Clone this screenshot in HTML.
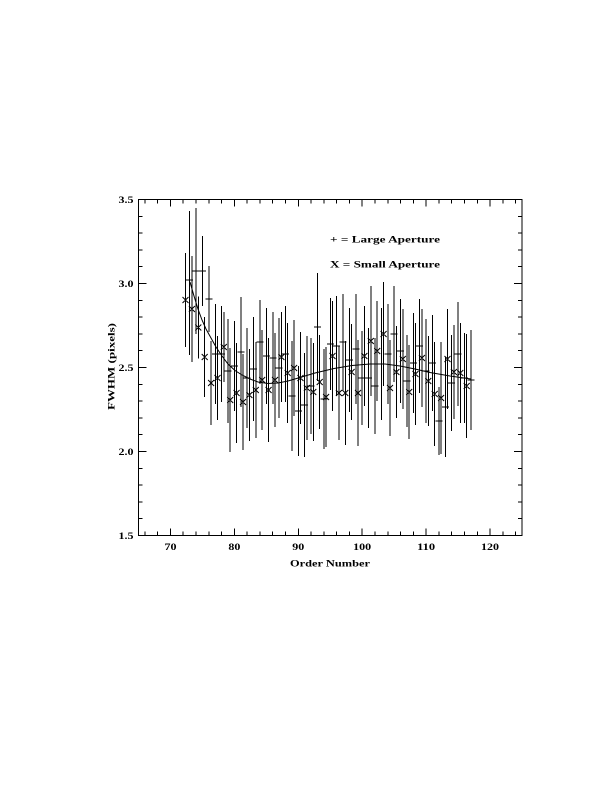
<!DOCTYPE html>
<html>
<head>
<meta charset="utf-8">
<style>
html,body{margin:0;padding:0;background:#fff;}
body{width:612px;height:792px;overflow:hidden;}
svg{display:block;}
text{font-family:"Liberation Serif","DejaVu Serif",serif;font-weight:bold;fill:#000;}
</style>
</head>
<body>
<svg width="612" height="792" viewBox="0 0 612 792" xmlns="http://www.w3.org/2000/svg">
<rect x="0" y="0" width="612" height="792" fill="#fff"/>
<!-- axes box -->
<rect x="138.5" y="199.5" width="383.5" height="336" fill="none" stroke="#000" stroke-width="1" shape-rendering="crispEdges"/>
<!-- x ticks -->
<path stroke="#000" stroke-width="1" fill="none" shape-rendering="crispEdges" d="
M144.9,535.5v-4 M157.7,535.5v-4 M183.2,535.5v-4 M196.0,535.5v-4 M208.8,535.5v-4 M221.6,535.5v-4
M247.2,535.5v-4 M259.9,535.5v-4 M272.7,535.5v-4 M285.5,535.5v-4 M311.1,535.5v-4 M323.9,535.5v-4
M336.6,535.5v-4 M349.4,535.5v-4 M375.0,535.5v-4 M387.8,535.5v-4 M400.6,535.5v-4 M413.3,535.5v-4
M438.9,535.5v-4 M451.7,535.5v-4 M464.5,535.5v-4 M477.3,535.5v-4 M502.8,535.5v-4 M515.6,535.5v-4
M170.5,535.5v-7 M234.4,535.5v-7 M298.3,535.5v-7 M362.2,535.5v-7 M426.1,535.5v-7 M490.0,535.5v-7
M144.9,199.5v4 M157.7,199.5v4 M183.2,199.5v4 M196.0,199.5v4 M208.8,199.5v4 M221.6,199.5v4
M247.2,199.5v4 M259.9,199.5v4 M272.7,199.5v4 M285.5,199.5v4 M311.1,199.5v4 M323.9,199.5v4
M336.6,199.5v4 M349.4,199.5v4 M375.0,199.5v4 M387.8,199.5v4 M400.6,199.5v4 M413.3,199.5v4
M438.9,199.5v4 M451.7,199.5v4 M464.5,199.5v4 M477.3,199.5v4 M502.8,199.5v4 M515.6,199.5v4
M170.5,199.5v7 M234.4,199.5v7 M298.3,199.5v7 M362.2,199.5v7 M426.1,199.5v7 M490.0,199.5v7
"/>
<!-- y ticks -->
<path stroke="#000" stroke-width="1" fill="none" shape-rendering="crispEdges" d="
M138.5,518.7h4 M138.5,501.9h4 M138.5,485.1h4 M138.5,468.3h4
M138.5,434.7h4 M138.5,417.9h4 M138.5,401.1h4 M138.5,384.3h4
M138.5,350.7h4 M138.5,333.9h4 M138.5,317.1h4 M138.5,300.3h4
M138.5,266.7h4 M138.5,249.9h4 M138.5,233.1h4 M138.5,216.3h4
M138.5,451.5h8 M138.5,367.5h8 M138.5,283.5h8
M522,518.7h-4 M522,501.9h-4 M522,485.1h-4 M522,468.3h-4
M522,434.7h-4 M522,417.9h-4 M522,401.1h-4 M522,384.3h-4
M522,350.7h-4 M522,333.9h-4 M522,317.1h-4 M522,300.3h-4
M522,266.7h-4 M522,249.9h-4 M522,233.1h-4 M522,216.3h-4
M522,451.5h-8 M522,367.5h-8 M522,283.5h-8
"/>
<!-- y tick labels -->
<g font-size="9.5" text-anchor="end">
<text x="133.5" y="203" textLength="15" lengthAdjust="spacingAndGlyphs">3.5</text>
<text x="133.5" y="287" textLength="15" lengthAdjust="spacingAndGlyphs">3.0</text>
<text x="133.5" y="371" textLength="15" lengthAdjust="spacingAndGlyphs">2.5</text>
<text x="133.5" y="455" textLength="15" lengthAdjust="spacingAndGlyphs">2.0</text>
<text x="133.5" y="539" textLength="15" lengthAdjust="spacingAndGlyphs">1.5</text>
</g>
<!-- x tick labels -->
<g font-size="9.5">
<text x="164.5" y="550" textLength="12" lengthAdjust="spacingAndGlyphs">70</text>
<text x="228.4" y="550" textLength="12" lengthAdjust="spacingAndGlyphs">80</text>
<text x="292.3" y="550" textLength="12" lengthAdjust="spacingAndGlyphs">90</text>
<text x="353.2" y="550" textLength="18" lengthAdjust="spacingAndGlyphs">100</text>
<text x="417.1" y="550" textLength="18" lengthAdjust="spacingAndGlyphs">110</text>
<text x="481.0" y="550" textLength="18" lengthAdjust="spacingAndGlyphs">120</text>
</g>
<!-- axis titles -->
<text x="290" y="566.5" font-size="9.5" textLength="80" lengthAdjust="spacingAndGlyphs">Order Number</text>
<text transform="translate(114.5,410) rotate(-90)" x="0" y="0" font-size="9.5" textLength="87" lengthAdjust="spacingAndGlyphs">FWHM (pixels)</text>
<!-- legend -->
<text x="330" y="242.5" font-size="9.5" textLength="110" lengthAdjust="spacingAndGlyphs">+ = Large Aperture</text>
<text x="330" y="267.5" font-size="9.5" textLength="110" lengthAdjust="spacingAndGlyphs">X = Small Aperture</text>

<!-- error bars: small aperture -->
<path stroke="#000" stroke-width="1" fill="none" shape-rendering="crispEdges" d="
M185.5,253V347 M191.9,256V362 M198.3,296.5V358.5 M204.7,317V397 M211.1,341V425 M217.5,336V420
M223.8,312V382 M230.2,348V452 M236.6,343V443 M243.0,354V450 M249.4,349V441 M255.8,342V438
M262.2,330V430 M268.6,338V442 M275.0,333V427 M281.4,312V402 M287.7,323V423 M294.1,320V416
M300.5,332V424 M306.9,336V440 M313.3,343V441 M319.7,335V429 M326.1,347V447 M332.5,301V411
M338.9,346V440 M345.3,341V445 M351.6,324V420 M358.0,340V446 M364.4,306V406 M370.8,286V396
M377.2,301V401 M383.6,282V386 M390.0,340V436 M396.4,326V418 M402.8,309V409 M409.2,345V439
M415.5,323V425 M421.9,309V407 M428.3,336V426 M434.7,342V446 M441.1,342V454 M447.5,309V409
M453.9,325V419 M460.3,323V423 M466.7,334V438
"/>
<!-- error bars: large aperture -->
<path stroke="#000" stroke-width="1" fill="none" shape-rendering="crispEdges" d="
M189.7,211V355 M196.1,208V334 M202.5,236V306 M208.9,266V332 M215.3,304V404 M221.7,306V402
M228.0,319V423 M234.4,321V411 M240.8,297V407 M247.2,328V428 M253.6,317V421 M260.0,300V384
M266.4,308V404 M272.8,312V404 M279.2,318V418 M285.6,306V402 M291.9,341V451 M298.3,366V456
M304.7,353V457 M311.1,338V434 M317.5,273V381 M323.9,349V449 M330.3,298V390 M336.7,296V396
M343.1,294V390 M349.5,308V412 M355.8,294V404 M362.2,331V425 M368.6,328V428 M375.0,338V434
M381.4,308V420 M387.8,304V404 M394.2,286V382 M400.6,299V403 M407.0,335V427 M413.4,313V413
M419.7,299V393 M426.1,319V423 M432.5,315V411 M438.9,387V455 M445.3,357V457 M451.7,335V431
M458.1,302V406 M464.5,333V423 M470.9,330V430
"/>
<!-- plus markers (horizontal bars) -->
<path stroke="#000" stroke-width="1" fill="none" shape-rendering="crispEdges" d="
M186.2,280h7 M192.6,271h7 M199.0,271h7 M205.4,299h7 M211.8,354h7 M218.2,354h7
M224.5,371h7 M230.9,366h7 M237.3,352h7 M243.7,378h7 M250.1,369h7 M256.5,342h7
M262.9,356h7 M269.3,358h7 M275.7,368h7 M282.1,354h7 M288.4,396h7 M294.8,411h7
M301.2,405h7 M307.6,386h7 M314.0,327h7 M320.4,399h7 M326.8,344h7 M333.2,346h7
M339.6,342h7 M346.0,360h7 M352.3,349h7 M358.7,378h7 M365.1,378h7 M371.5,386h7
M377.9,364h7 M384.3,354h7 M390.7,334h7 M397.1,351h7 M403.5,381h7 M409.9,363h7
M416.2,346h7 M422.6,371h7 M429.0,363h7 M435.4,421h7 M441.8,407h7 M448.2,383h7
M454.6,354h7 M461.0,378h7 M467.4,380h7
"/>
<!-- X markers -->
<path stroke="#000" stroke-width="1" fill="none" d="
M182.5,297l6,6m0,-6l-6,6 M188.9,306l6,6m0,-6l-6,6 M195.3,324.5l6,6m0,-6l-6,6 M201.7,354l6,6m0,-6l-6,6
M208.1,380l6,6m0,-6l-6,6 M214.5,375l6,6m0,-6l-6,6 M220.8,344l6,6m0,-6l-6,6 M227.2,397l6,6m0,-6l-6,6
M233.6,390l6,6m0,-6l-6,6 M240.0,399l6,6m0,-6l-6,6 M246.4,392l6,6m0,-6l-6,6 M252.8,387l6,6m0,-6l-6,6
M259.2,377l6,6m0,-6l-6,6 M265.6,387l6,6m0,-6l-6,6 M272.0,377l6,6m0,-6l-6,6 M278.4,354l6,6m0,-6l-6,6
M284.7,370l6,6m0,-6l-6,6 M291.1,365l6,6m0,-6l-6,6 M297.5,375l6,6m0,-6l-6,6 M303.9,385l6,6m0,-6l-6,6
M310.3,389l6,6m0,-6l-6,6 M316.7,379l6,6m0,-6l-6,6 M323.1,394l6,6m0,-6l-6,6 M329.5,353l6,6m0,-6l-6,6
M335.9,390l6,6m0,-6l-6,6 M342.3,390l6,6m0,-6l-6,6 M348.6,369l6,6m0,-6l-6,6 M355.0,390l6,6m0,-6l-6,6
M361.4,353l6,6m0,-6l-6,6 M367.8,338l6,6m0,-6l-6,6 M374.2,348l6,6m0,-6l-6,6 M380.6,331l6,6m0,-6l-6,6
M387.0,385l6,6m0,-6l-6,6 M393.4,369l6,6m0,-6l-6,6 M399.8,356l6,6m0,-6l-6,6 M406.2,389l6,6m0,-6l-6,6
M412.5,371l6,6m0,-6l-6,6 M418.9,355l6,6m0,-6l-6,6 M425.3,378l6,6m0,-6l-6,6 M431.7,391l6,6m0,-6l-6,6
M438.1,395l6,6m0,-6l-6,6 M444.5,356l6,6m0,-6l-6,6 M450.9,369l6,6m0,-6l-6,6 M457.3,370l6,6m0,-6l-6,6
M463.7,383l6,6m0,-6l-6,6
"/>
<!-- fit curve -->
<path stroke="#000" stroke-width="1" fill="none" d="
M190,282 L194,296 L198,309 L202,320 L206,329 L211,338 L216,347 L222,356 L228,364 L235,370.5
L242,375 L250,379 L258,382 L268,383.5 L278,383 L288,381 L300,377.5 L315,373 L334,368.5
L352,365.5 L370,364 L385,364 L400,366 L415,369 L430,372.5 L450,376 L471,379"/>
</svg>
</body>
</html>
